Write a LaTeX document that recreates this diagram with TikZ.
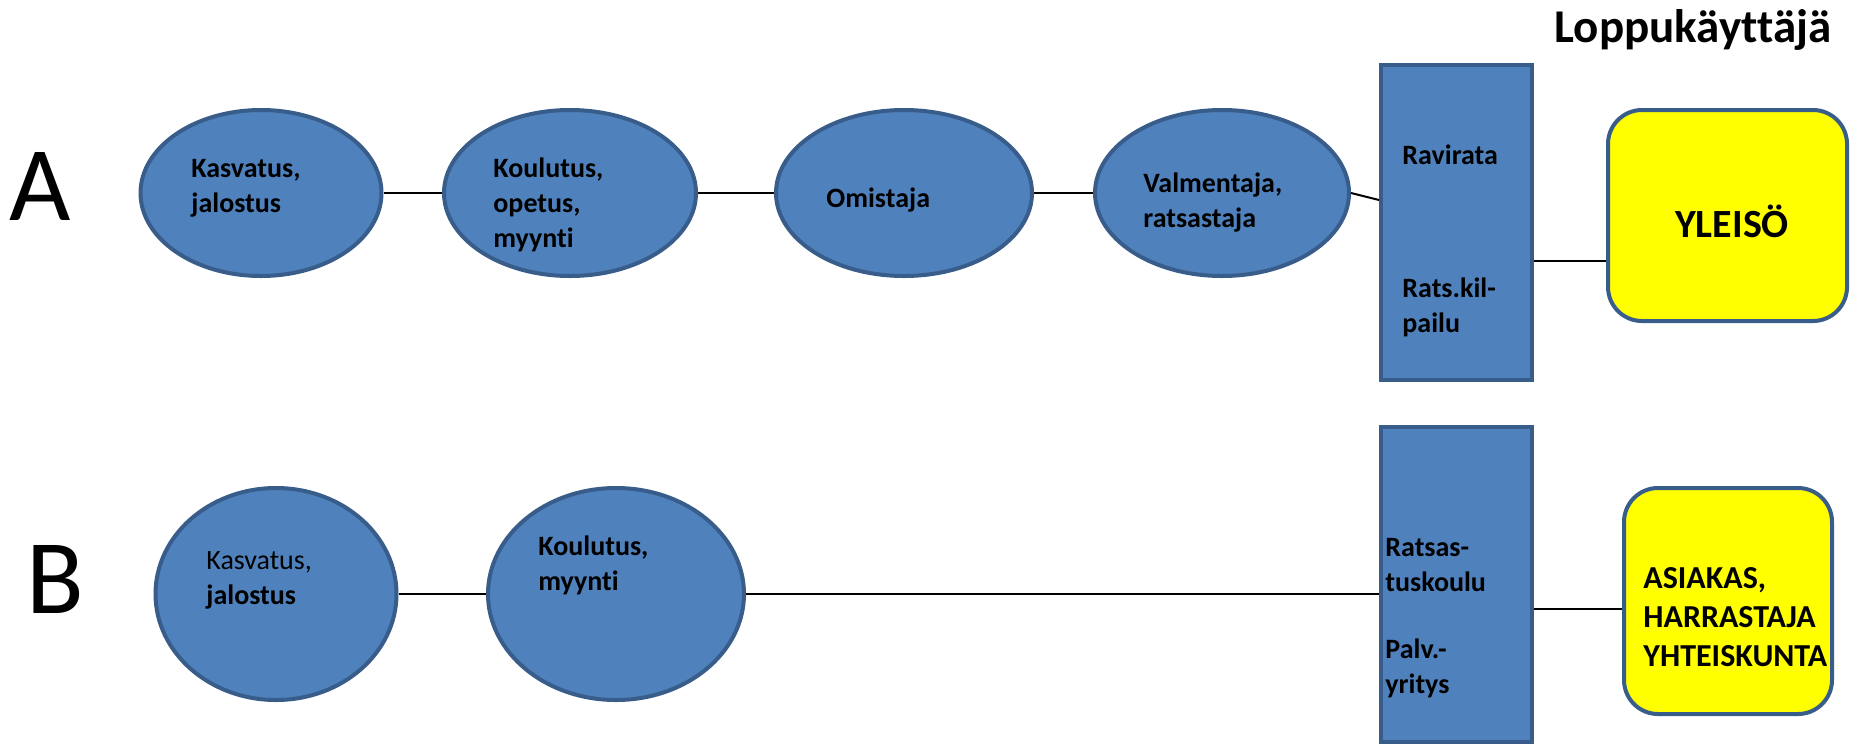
\documentclass[tikz,border=0pt]{standalone}
\usepackage{fontspec}
\setmainfont{Carlito}[Ligatures={NoCommon,NoRequired,NoContextual}]
\usetikzlibrary{shapes.geometric}
\definecolor{boxblue}{HTML}{4F81BD}
\definecolor{edgeblue}{HTML}{385D8A}
\definecolor{boxyellow}{HTML}{FFFF00}
\tikzset{
  oval/.style={ellipse, draw=edgeblue, fill=boxblue, line width=2pt, inner sep=0pt},
  bar/.style={rectangle, draw=edgeblue, fill=boxblue, line width=2pt, inner sep=0pt, minimum width=75.5pt, minimum height=157.5pt},
  enduser/.style={rectangle, rounded corners=17pt, draw=edgeblue, fill=boxyellow, line width=2pt, inner sep=0pt},
  lbl/.style={anchor=west, inner sep=0pt, align=left, font=\fontsize{14}{17.5}\selectfont\bfseries},
  link/.style={draw=black, line width=1pt},
  rowname/.style={inner sep=0pt, font=\fontsize{53}{60}\selectfont}
}
\begin{document}
\begin{tikzpicture}[x=0.5pt, y=-0.5pt]
\useasboundingbox (0,0) rectangle (1851,745);

% title
\node[inner sep=0pt, font=\fontsize{23.5}{28}\selectfont\bfseries] (title) at (1693,30) {Loppukäyttäjä};

% row labels
\node[rowname] (rowA) at (40,186) {A};
\node[rowname] (rowB) at (55,579) {B};

% row A
\node[oval, minimum width=120.5pt, minimum height=83pt] (e1) at (261,193) {};
\node[oval, minimum width=126pt, minimum height=83pt] (e2) at (570,193) {};
\node[oval, minimum width=128pt, minimum height=83pt] (e3) at (904,193) {};
\node[oval, minimum width=127pt, minimum height=83pt] (e4) at (1222,193) {};
\node[bar] (ra) at (1456.5,222.5) {};
\node[enduser, minimum width=119.5pt, minimum height=105.5pt] (ya) at (1727.5,215.5) {};

\node[lbl] (t1) at (191,188) {Kasvatus,\\jalostus};
\node[lbl] (t2) at (493,205) {Koulutus,\\opetus,\\myynti};
\node[lbl] (t3) at (826,200) {Omistaja};
\node[lbl] (t4) at (1143,203) {Valmentaja,\\ratsastaja};
\node[lbl] (t5) at (1402,155) {Ravirata};
\node[lbl] (t6) at (1402,307) {Rats.kil-\\pailu};
\node[inner sep=0pt, font=\fontsize{20}{24}\selectfont\bfseries] (t7) at (1732,221) {YLEISÖ};

\coordinate (kA) at (1300,200);
\coordinate (kB) at (1560,261);
\draw[link] (e1.east) -- (e2.west);
\draw[link] (e2.east) -- (e3.west);
\draw[link] (e3.east) -- (e4.west);
\draw[link] (e4.east) -- (ra.west |- kA);
\draw[link] (ra.east |- kB) -- (ya.west |- kB);

% row B
\node[oval, minimum width=120.5pt, minimum height=106pt] (b1) at (276,594) {};
\node[oval, minimum width=128pt, minimum height=106pt] (b2) at (616,594) {};
\node[bar] (rb) at (1456.5,584) {};
\node[enduser, minimum width=104pt, minimum height=113pt] (yb) at (1728,601) {};

\node[lbl] (s1) at (206,580) {\mdseries Kasvatus,\\jalostus};
\node[lbl] (s2) at (538,565) {Koulutus,\\myynti};
\node[lbl] (s3) at (1385,565) {Ratsas-\\tuskoulu};
\node[lbl] (s4) at (1385,668) {Palv.-\\yritys};
\node[lbl, font=\fontsize{16}{19.5}\selectfont\bfseries] (s5) at (1643,617) {ASIAKAS,\\HARRASTAJA\\YHTEISKUNTA};

\coordinate (kC) at (1560,609);
\draw[link] (b1.east) -- (b2.west);
\draw[link] (b2.east) -- (rb.west |- b2.east);
\draw[link] (rb.east |- kC) -- (yb.west |- kC);
\end{tikzpicture}
\end{document}
